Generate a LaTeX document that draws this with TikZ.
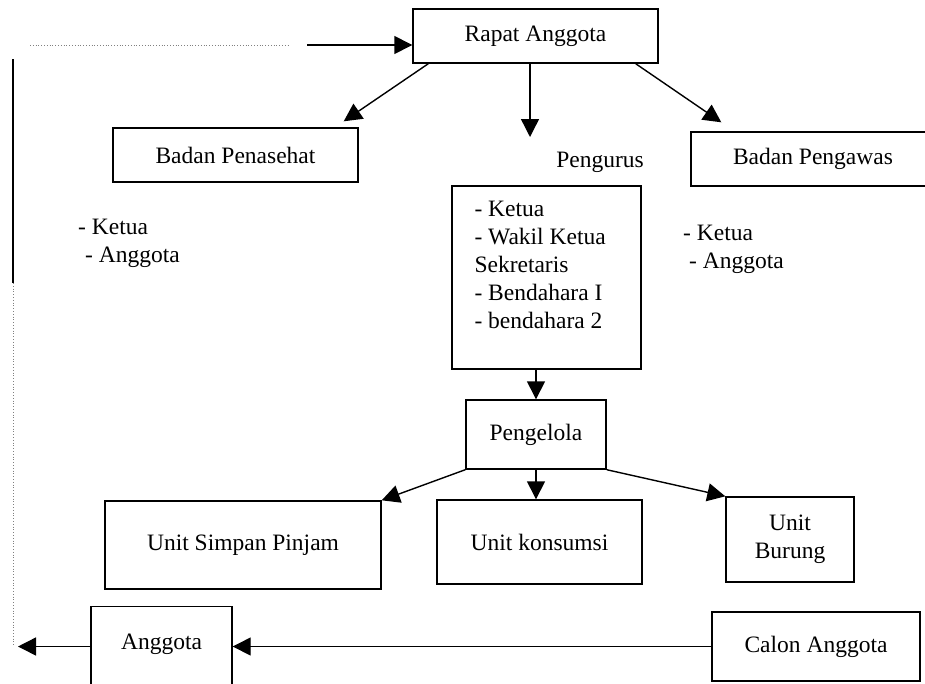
\documentclass[tikz,border=0pt]{standalone}
\usepackage{fontspec}
\setmainfont{Liberation Serif}
\usetikzlibrary{arrows.meta,positioning}

\begin{document}
\begin{tikzpicture}[x=1pt,y=-1pt,
  box/.style={draw, line width=1.4pt, inner sep=0pt, align=center, font=\fontsize{23.5}{28}\selectfont},
  txt/.style={inner sep=0pt, align=left, font=\fontsize{23.5}{28}\selectfont},
  arr/.style={line width=1.4pt, -{Triangle[length=18pt,width=18pt]}},
  dots/.style={gray, line width=0.8pt, dotted}]
\useasboundingbox[fill=white] (0,0) rectangle (925,683);
\node[box, minimum width=245pt, minimum height=54pt] (rapat) at (535.5,36) {Rapat Anggota};
\node[box, minimum width=245pt, minimum height=54pt] (penasehat) at (235.5,155) {Badan Penasehat};
\node[box, minimum width=244pt, minimum height=54pt] (pengawas) at (813,159) {Badan Pengawas};
\node[txt] (pengurusLbl) at (600,162) {Pengurus};
\node[box, minimum width=189pt, minimum height=183pt] (pengurus) at (546.5,277.5) {};
\node[txt, below right=16pt and 23pt of pengurus.north west] (pengurusList) {- Ketua\\- Wakil Ketua\\Sekretaris\\- Bendahara I\\- bendahara 2};
\node[txt, anchor=north west] (penasehatList) at (78,219) {- Ketua\\\hspace*{7pt}- Anggota};
\node[txt, anchor=north west] (pengawasList) at (683,225) {- Ketua\\\hspace*{6pt}- Anggota};
\node[box, minimum width=140pt, minimum height=69pt] (pengelola) at (536,434.5) {Pengelola};
\node[box, minimum width=276pt, minimum height=88pt] (simpan) at (243,545) {Unit Simpan Pinjam};
\node[box, minimum width=205pt, minimum height=84pt] (konsumsi) at (539.5,542) {Unit konsumsi};
\node[box, minimum width=128pt, minimum height=85pt] (burung) at (790,539.5) {Unit\\Burung};
\node[box, minimum width=208pt, minimum height=69pt] (calon) at (816,646.5) {Calon Anggota};
\node[box, anchor=north, minimum width=141pt, text height=43pt, text depth=50pt] (anggota) at (161.5,606) {Anggota};

% free ends
\coordinate (dotA) at (30,45);
\coordinate (dotB) at (290,45);
\coordinate (topIn) at (307,45);
\coordinate (sideTop) at (13,59);
\coordinate (sideMid) at (13,283);
\coordinate (sideBot) at (13,645);
\coordinate (anggotaOut) at (18,646.5);
\coordinate (pengurusIn) at (530,137);

\draw[dots] (dotA) -- (dotB);
\draw[arr] (topIn) -- (topIn -| rapat.west);
\draw[line width=1.4pt] (sideTop) -- (sideMid);
\draw[dots] (sideMid) -- (sideBot);
\draw[arr] ([xshift=16pt]rapat.south west) -- ([xshift=-15pt,yshift=6pt]penasehat.north east);
\draw[arr] (pengurusIn |- rapat.south) -- (pengurusIn);
\draw[arr] ([xshift=-23pt]rapat.south east) -- ([xshift=31pt,yshift=9pt]pengawas.north west);
\draw[arr] (pengelola.north |- pengurus.south) -- (pengelola.north);
\draw[arr] (pengelola.south west) -- (simpan.north east);
\draw[arr] (pengelola.south) -- (pengelola.south |- konsumsi.north);
\draw[arr] (pengelola.south east) -- (burung.north west);
\draw[arr] (calon.west) -- (calon.west -| anggota.east);
\draw[arr] (calon.west -| anggota.west) -- (anggotaOut);

\end{tikzpicture}
\end{document}
